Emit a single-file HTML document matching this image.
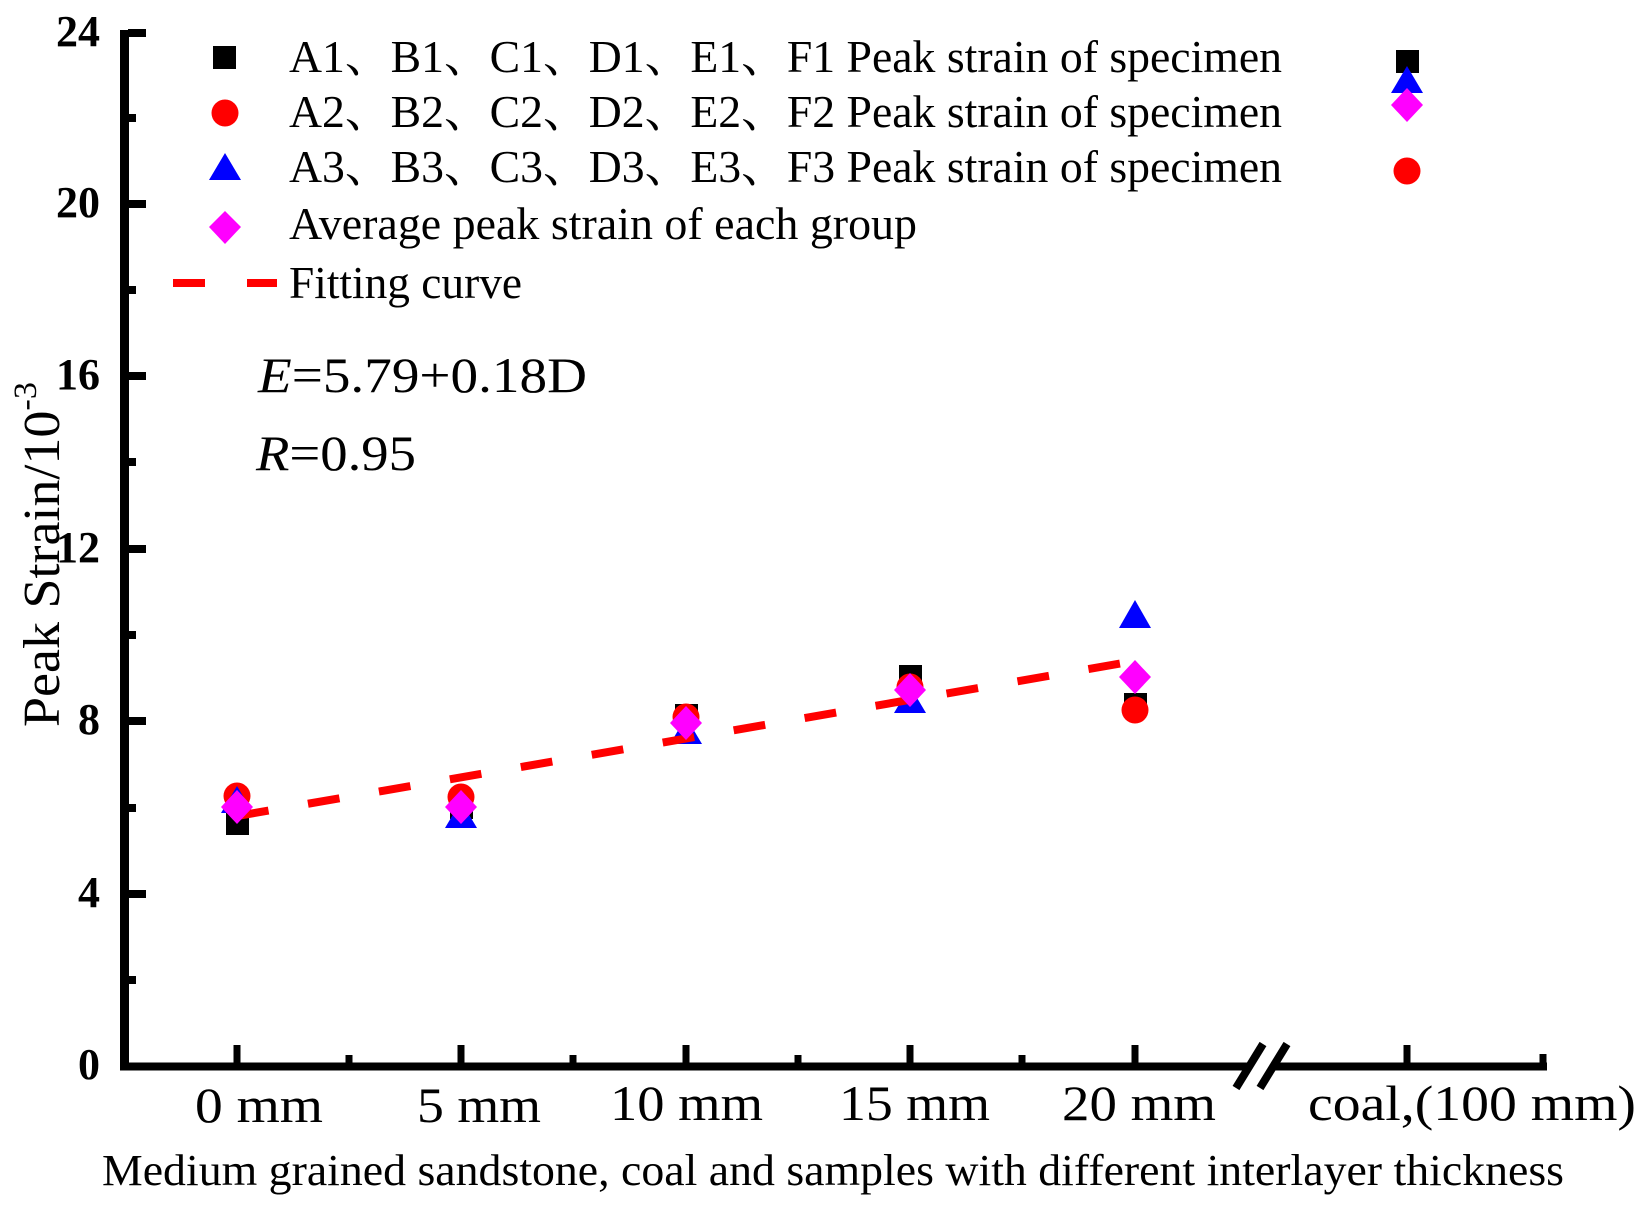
<!DOCTYPE html>
<html><head><meta charset="utf-8"><style>html,body{margin:0;padding:0;background:#fff}svg{display:block}</style></head><body>
<svg width="1644" height="1208" viewBox="0 0 1644 1208" xmlns="http://www.w3.org/2000/svg" font-family="'Liberation Serif','Noto Serif CJK SC',serif">
<rect width="1644" height="1208" fill="#fff"/>
<g stroke="#000" fill="none">
<line x1="124.5" y1="30" x2="124.5" y2="1070" stroke-width="9"/>
<line x1="120" y1="1066.5" x2="1249" y2="1066.5" stroke-width="8"/>
<line x1="1272" y1="1066.5" x2="1547" y2="1066.5" stroke-width="8"/>
<line x1="1236" y1="1088" x2="1263" y2="1044" stroke-width="8"/>
<line x1="1260" y1="1088" x2="1287" y2="1044" stroke-width="8"/>
<g stroke-width="8">
<line x1="128" y1="33" x2="146" y2="33"/>
<line x1="128" y1="204" x2="146" y2="204"/>
<line x1="128" y1="376" x2="146" y2="376"/>
<line x1="128" y1="549" x2="146" y2="549"/>
<line x1="128" y1="721" x2="146" y2="721"/>
<line x1="128" y1="894" x2="146" y2="894"/>
<line x1="128" y1="118" x2="136" y2="118"/>
<line x1="128" y1="290" x2="136" y2="290"/>
<line x1="128" y1="462" x2="136" y2="462"/>
<line x1="128" y1="635" x2="136" y2="635"/>
<line x1="128" y1="808" x2="136" y2="808"/>
<line x1="128" y1="980" x2="136" y2="980"/>
</g>
<g stroke-width="7">
<line x1="237" y1="1063" x2="237" y2="1045"/>
<line x1="461" y1="1063" x2="461" y2="1045"/>
<line x1="686" y1="1063" x2="686" y2="1045"/>
<line x1="910" y1="1063" x2="910" y2="1045"/>
<line x1="1135" y1="1063" x2="1135" y2="1045"/>
<line x1="1407" y1="1063" x2="1407" y2="1045"/>
<line x1="1543" y1="1063" x2="1543" y2="1054"/>
<line x1="349" y1="1063" x2="349" y2="1055"/>
<line x1="573" y1="1063" x2="573" y2="1055"/>
<line x1="798" y1="1063" x2="798" y2="1055"/>
<line x1="1022" y1="1063" x2="1022" y2="1055"/>
</g>
</g>
<g font-size="44" font-weight="bold" text-anchor="end">
<text x="100" y="46">24</text>
<text x="100" y="217">20</text>
<text x="100" y="389">16</text>
<text x="100" y="562">12</text>
<text x="100" y="734">8</text>
<text x="100" y="907">4</text>
<text x="100" y="1079">0</text>
</g>
<g font-size="50">
<text x="195" y="1122" textLength="128" lengthAdjust="spacingAndGlyphs">0 mm</text>
<text x="417" y="1122" textLength="124" lengthAdjust="spacingAndGlyphs">5 mm</text>
<text x="610" y="1120" textLength="153" lengthAdjust="spacingAndGlyphs">10 mm</text>
<text x="839" y="1120" textLength="151" lengthAdjust="spacingAndGlyphs">15 mm</text>
<text x="1062" y="1120" textLength="154" lengthAdjust="spacingAndGlyphs">20 mm</text>
<text x="1308" y="1120" textLength="328" lengthAdjust="spacingAndGlyphs">coal,(100 mm)</text>
</g>
<text x="102" y="1185" font-size="44" textLength="1462" lengthAdjust="spacingAndGlyphs">Medium grained sandstone, coal and samples with different interlayer thickness</text>
<text transform="translate(59,727) rotate(-90)" font-size="52" textLength="345" lengthAdjust="spacingAndGlyphs">Peak Strain/10<tspan font-size="33" dy="-23">-3</tspan></text>
<text x="258" y="392" font-size="50" textLength="329" lengthAdjust="spacingAndGlyphs"><tspan font-style="italic">E</tspan>=5.79+0.18D</text>
<text x="256" y="470" font-size="50" textLength="160" lengthAdjust="spacingAndGlyphs"><tspan font-style="italic">R</tspan>=0.95</text>
<rect x="213" y="46" width="23" height="23" fill="#000"/>
<circle cx="225" cy="113" r="13.5" fill="#f00"/>
<polygon points="225,153 209,180 241,180" fill="#00f"/>
<polygon points="225,211 241,227 225,244 209,227" fill="#f0f"/>
<g stroke="#f00" stroke-width="8"><line x1="173" y1="283" x2="205" y2="283"/><line x1="247" y1="283" x2="277" y2="283"/></g>
<g font-size="46">
<text x="289" y="72" textLength="993" lengthAdjust="spacingAndGlyphs">A1、B1、C1、D1、E1、F1 Peak strain of specimen</text>
<text x="289" y="127" textLength="993" lengthAdjust="spacingAndGlyphs">A2、B2、C2、D2、E2、F2 Peak strain of specimen</text>
<text x="289" y="182" textLength="993" lengthAdjust="spacingAndGlyphs">A3、B3、C3、D3、E3、F3 Peak strain of specimen</text>
<text x="289" y="239" textLength="628" lengthAdjust="spacingAndGlyphs">Average peak strain of each group</text>
<text x="289" y="298" textLength="233" lengthAdjust="spacingAndGlyphs">Fitting curve</text>
</g>
<g>
<g fill="#000">
<rect x="226" y="812" width="23" height="23"/>
<rect x="450" y="796" width="23" height="23"/>
<rect x="675" y="704" width="23" height="23"/>
<rect x="899" y="665" width="23" height="23"/>
<rect x="1124" y="693" width="23" height="23"/>
<rect x="1396" y="50" width="23" height="23"/>
</g>
<g fill="#f00">
<circle cx="237" cy="796" r="13.5"/>
<circle cx="461" cy="797" r="13.5"/>
<circle cx="686" cy="717" r="13.5"/>
<circle cx="910" cy="687" r="13.5"/>
<circle cx="1135" cy="710" r="13.5"/>
<circle cx="1407" cy="171" r="13.5"/>
</g>
<g fill="#00f">
<polygon points="237,786 221,813 253,813"/>
<polygon points="461,801 445,828 477,828"/>
<polygon points="686,717 670,744 702,744"/>
<polygon points="910,686 894,713 926,713"/>
<polygon points="1135,600 1119,628 1151,628"/>
<polygon points="1407,66 1391,93 1423,93"/>
</g>
<line x1="237" y1="816" x2="1135" y2="661" stroke="#f00" stroke-width="8" stroke-dasharray="32 40"/>
<g fill="#f0f">
<polygon points="237,790 253,807 237,824 221,807"/>
<polygon points="461,790 477,807 461,824 445,807"/>
<polygon points="686,706 702,723 686,740 670,723"/>
<polygon points="910,673 926,690 910,707 894,690"/>
<polygon points="1135,660 1151,677 1135,694 1119,677"/>
<polygon points="1407,88 1423,105 1407,122 1391,105"/>
</g>
</g>
</svg>
</body></html>
